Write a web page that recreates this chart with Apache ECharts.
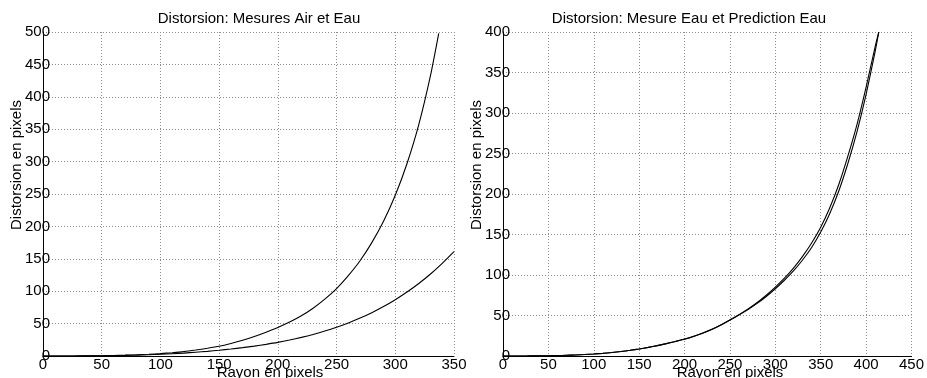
<!DOCTYPE html>
<html>
<head>
<meta charset="utf-8">
<script src="https://cdn.jsdelivr.net/npm/echarts@6/dist/echarts.min.js"></script>
<style>
  html, body { margin: 0; padding: 0; background: #fff; }
  #chart { width: 927px; height: 378px; }
</style>
</head>
<body>
<div id="chart"></div>
<script>
const rayonAir = [0, 10, 20, 30, 40, 50, 60, 70, 80, 90, 100, 110, 120, 130, 140, 150, 160, 170, 180, 190,
                  200, 210, 220, 230, 240, 250, 260, 270, 280, 290, 300, 310, 320, 330, 337];
const distAir  = [0, 0, 0.05, 0.15, 0.3, 0.5, 0.8, 1.3, 1.9, 2.7, 3.7, 5.1, 6.8, 9.2, 11.9, 15, 19.3, 24.3, 30.2, 36.8,
                  44, 52.3, 62.1, 73.8, 87.7, 104, 124, 147, 175, 208, 248, 297, 357, 433, 498];
const rayonEau = [0, 10, 20, 30, 40, 50, 60, 70, 80, 90, 100, 110, 120, 130, 140, 150, 160, 170, 180, 190,
                  200, 210, 220, 230, 240, 250, 260, 270, 280, 290, 300, 310, 320, 330, 340, 350];
const distEau  = [0, 0, 0.02, 0.07, 0.17, 0.33, 0.57, 0.9, 1.34, 1.9, 2.6, 3.5, 4.5, 5.8, 7.2, 8.9, 10.8, 12.9, 15.3, 18,
                  21, 24.6, 28.7, 33.3, 38.5, 44.4, 51, 58.5, 66.9, 76.3, 86.9, 98.7, 111.9, 126.6, 143, 161];

// droite : mesure eau / prediction eau
const rayonMes = [0, 10, 20, 30, 40, 50, 60, 70, 80, 90, 100, 110, 120, 130, 140, 150, 160, 170, 180, 190,
                  200, 210, 220, 230, 240, 250, 260, 270, 280, 290, 300, 310, 320, 330, 340, 350,
                  360, 370, 380, 390, 400, 410, 414];
const distMes  = [0, 0, 0.05, 0.1, 0.2, 0.35, 0.55, 0.85, 1.25, 1.8, 2.5, 3.3, 4.3, 5.5, 7, 8.7, 10.6, 12.8, 15.3, 18,
                  21, 24.5, 28.4, 33, 38.4, 44.5, 50.8, 57.5, 65, 73.5, 83, 93.5, 105, 118.5, 134, 153,
                  176, 204, 238, 277, 323, 376, 400];
const rayonPred = rayonMes;
const distPred  = [0, 0, 0.05, 0.1, 0.2, 0.35, 0.55, 0.85, 1.25, 1.8, 2.5, 3.3, 4.3, 5.5, 7, 8.7, 10.6, 12.8, 15.3, 18,
                   20.7, 24.2, 28.2, 32.8, 38.3, 44.5, 51, 58.2, 66, 75, 85, 96, 108.5, 123, 139.5, 159,
                   183, 212, 247, 286, 332, 382, 400];

const titres = ['Distorsion: Mesures Air et Eau', 'Distorsion: Mesure Eau et Prediction Eau'];
const nomX = 'Rayon en pixels';
const nomY = 'Distorsion en pixels';

const FONT = 'Liberation Sans, Arial, Helvetica, sans-serif';

function zip(xs, ys) {
  return xs.map((x, i) => [x, ys[i]]);
}

function axeX(idx, max) {
  return {
    type: 'value', gridIndex: idx, min: 0, max: max, interval: 50,
    axisLine: { show: true, onZero: false, lineStyle: { color: '#000', width: 1 } },
    axisTick: { show: false },
    axisLabel: { color: '#000', fontSize: 15, fontFamily: FONT, margin: 1 },
    splitLine: { show: true, lineStyle: { color: '#8c8c8c', type: [1, 2], width: 1 } }
  };
}

function axeY(idx, max) {
  return {
    type: 'value', gridIndex: idx, min: 0, max: max, interval: 50,
    axisLine: { show: true, onZero: false, lineStyle: { color: '#000', width: 1 } },
    axisTick: { show: false },
    axisLabel: { color: '#000', fontSize: 15, fontFamily: FONT, margin: -7 },
    splitLine: { show: true, lineStyle: { color: '#8c8c8c', type: [1, 2], width: 1 } }
  };
}

function courbe(idx, data) {
  return {
    type: 'line', xAxisIndex: idx, yAxisIndex: idx,
    data: data, symbol: 'none', smooth: 0.2,
    lineStyle: { color: '#000', width: 1.1 }, silent: true, animation: false
  };
}

function texte(x, y, txt, rot) {
  return {
    type: 'text', x: x, y: y, rotation: rot || 0,
    style: { text: txt, fill: '#000', font: '15px ' + FONT, textAlign: 'center', textVerticalAlign: 'middle' }
  };
}

let chart = echarts.init(document.getElementById('chart'));
chart.setOption({
  backgroundColor: '#fff',
  animation: false,
  grid: [
    { left: 43, top: 32, width: 411, height: 324 },
    { left: 503, top: 32, width: 411, height: 324 }
  ],
  xAxis: [axeX(0, 350), axeX(1, 450)],
  yAxis: [axeY(0, 500), axeY(1, 400)],
  series: [
    courbe(0, zip(rayonAir, distAir)),
    courbe(0, zip(rayonEau, distEau)),
    courbe(1, zip(rayonMes, distMes)),
    courbe(1, zip(rayonPred, distPred))
  ],
  graphic: [
    texte(259, 19, titres[0]),
    texte(689, 19, titres[1]),
    texte(270, 373, nomX),
    texte(730, 373, nomX),
    texte(17, 165, nomY, Math.PI / 2),
    texte(477, 165, nomY, Math.PI / 2)
  ]
});
</script>
</body>
</html>
